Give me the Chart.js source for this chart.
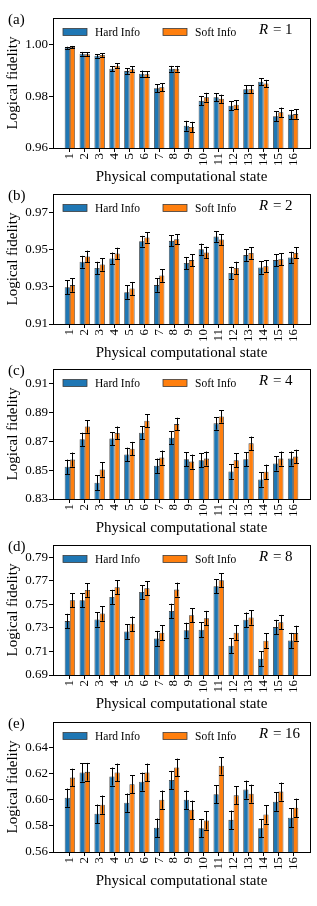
<!DOCTYPE html>
<html>
<head>
<meta charset="utf-8">
<script src="https://cdn.jsdelivr.net/npm/chart.js@4.4.0/dist/chart.umd.min.js"></script>
<style>
    html, body { margin: 0; padding: 0; background: #fff; }
    body { width: 317px; height: 906px; position: relative; overflow: hidden; }
    .panel { position: absolute; left: 0; width: 317px; height: 186px; }
</style>
</head>
<body>
<div class="panel" style="top:0px"><canvas id="chartR1"></canvas></div>
<div class="panel" style="top:176px"><canvas id="chartR2"></canvas></div>
<div class="panel" style="top:351px"><canvas id="chartR4"></canvas></div>
<div class="panel" style="top:527px"><canvas id="chartR8"></canvas></div>
<div class="panel" style="top:704px"><canvas id="chartR16"></canvas></div>

<script>
// Physical computational states (x axis)
const states = [1, 2, 3, 4, 5, 6, 7, 8, 9, 10, 11, 12, 13, 14, 15, 16];

// R = 1
const hardR1 = [0.9987, 0.9964, 0.9956, 0.9906, 0.9897, 0.9887, 0.9831, 0.9906, 0.9686, 0.9782, 0.9796, 0.9763, 0.9827, 0.9856, 0.9723, 0.9729];
const softR1 = [0.9990, 0.9962, 0.9959, 0.9918, 0.9904, 0.9885, 0.9835, 0.9906, 0.9681, 0.9796, 0.9790, 0.9767, 0.9827, 0.9849, 0.9738, 0.9731];
const hardErrR1 = [0.0004, 0.0007, 0.0007, 0.0010, 0.0011, 0.0012, 0.0015, 0.0011, 0.0019, 0.0017, 0.0016, 0.0017, 0.0015, 0.0014, 0.0019, 0.0018];
const softErrR1 = [0.0004, 0.0007, 0.0007, 0.0010, 0.0011, 0.0012, 0.0015, 0.0011, 0.0020, 0.0017, 0.0016, 0.0017, 0.0015, 0.0014, 0.0018, 0.0018];
const ticksR1 = [0.96, 0.98, 1.00];

// R = 2
const hardR2 = [0.9299, 0.9436, 0.9402, 0.9454, 0.9272, 0.9547, 0.9310, 0.9549, 0.9429, 0.9504, 0.9572, 0.9375, 0.9472, 0.9405, 0.9445, 0.9459];
const softR2 = [0.9310, 0.9465, 0.9421, 0.9481, 0.9292, 0.9567, 0.9362, 0.9558, 0.9445, 0.9486, 0.9556, 0.9403, 0.9483, 0.9412, 0.9450, 0.9484];
const hardErrR2 = [0.0037, 0.0032, 0.0034, 0.0032, 0.0036, 0.0029, 0.0036, 0.0029, 0.0033, 0.0030, 0.0028, 0.0034, 0.0031, 0.0034, 0.0032, 0.0031];
const softErrR2 = [0.0036, 0.0031, 0.0033, 0.0031, 0.0035, 0.0028, 0.0034, 0.0028, 0.0032, 0.0031, 0.0029, 0.0033, 0.0031, 0.0033, 0.0032, 0.0030];
const ticksR2 = [0.91, 0.93, 0.95, 0.97];

// R = 4
const hardR4 = [0.8524, 0.8715, 0.8413, 0.8720, 0.8609, 0.8761, 0.8531, 0.8726, 0.8577, 0.8570, 0.8826, 0.8491, 0.8577, 0.8436, 0.8547, 0.8581];
const softR4 = [0.8574, 0.8805, 0.8505, 0.8759, 0.8650, 0.8844, 0.8588, 0.8821, 0.8560, 0.8581, 0.8874, 0.8570, 0.8687, 0.8489, 0.8581, 0.8595];
const hardErrR4 = [0.0050, 0.0046, 0.0052, 0.0046, 0.0048, 0.0045, 0.0050, 0.0046, 0.0049, 0.0049, 0.0044, 0.0050, 0.0049, 0.0051, 0.0049, 0.0049];
const softErrR4 = [0.0049, 0.0044, 0.0050, 0.0045, 0.0047, 0.0044, 0.0049, 0.0044, 0.0049, 0.0049, 0.0043, 0.0049, 0.0047, 0.0050, 0.0049, 0.0048];
const ticksR4 = [0.83, 0.85, 0.87, 0.89, 0.91];

// R = 8
const hardR8 = [0.7358, 0.7536, 0.7372, 0.7564, 0.7270, 0.7606, 0.7211, 0.7445, 0.7281, 0.7284, 0.7654, 0.7149, 0.7369, 0.7038, 0.7307, 0.7194];
const softR8 = [0.7536, 0.7623, 0.7423, 0.7646, 0.7335, 0.7637, 0.7259, 0.7626, 0.7408, 0.7383, 0.7705, 0.7259, 0.7389, 0.7191, 0.7349, 0.7256];
const hardErrR8 = [0.0062, 0.0060, 0.0062, 0.0060, 0.0063, 0.0059, 0.0064, 0.0061, 0.0063, 0.0063, 0.0059, 0.0064, 0.0062, 0.0065, 0.0062, 0.0064];
const softErrR8 = [0.0060, 0.0059, 0.0061, 0.0059, 0.0062, 0.0059, 0.0063, 0.0059, 0.0061, 0.0062, 0.0058, 0.0063, 0.0061, 0.0063, 0.0062, 0.0063];
const ticksR8 = [0.69, 0.71, 0.73, 0.75, 0.77, 0.79];

// R = 16
const hardR16 = [0.6015, 0.6208, 0.5892, 0.6177, 0.5977, 0.6138, 0.5785, 0.6151, 0.6000, 0.5782, 0.6041, 0.5846, 0.6077, 0.5782, 0.5985, 0.5862];
const softR16 = [0.6169, 0.6213, 0.5962, 0.6208, 0.6118, 0.6208, 0.6000, 0.6246, 0.5923, 0.5841, 0.6259, 0.6033, 0.6046, 0.5887, 0.6062, 0.5938];
const hardErrR16 = [0.0070, 0.0069, 0.0071, 0.0069, 0.0070, 0.0069, 0.0071, 0.0069, 0.0070, 0.0071, 0.0070, 0.0071, 0.0069, 0.0071, 0.0070, 0.0071];
const softErrR16 = [0.0068, 0.0068, 0.0070, 0.0068, 0.0069, 0.0068, 0.0070, 0.0068, 0.0070, 0.0070, 0.0067, 0.0069, 0.0069, 0.0070, 0.0069, 0.0070];
const ticksR16 = [0.56, 0.58, 0.60, 0.62, 0.64];

const SERIF = "'Liberation Serif', 'DejaVu Serif', serif";
const BLUE = '#1f77b4';
const ORANGE = '#ff7f0e';
const EDGE = '#3c3c3c';

Chart.defaults.font.family = SERIF;
Chart.defaults.color = '#000';

// Error bars, frame, legend and panel labels
const panelDecor = {
    id: 'panelDecor',
    afterDatasetsDraw(chart) {
        const ctx = chart.ctx;
        const yScale = chart.scales.y;
        ctx.save();
        ctx.strokeStyle = '#000';
        ctx.lineWidth = 1;
        chart.data.datasets.forEach((ds, di) => {
            const meta = chart.getDatasetMeta(di);
            meta.data.forEach((bar, i) => {
                const v = ds.data[i].y;
                const e = ds.errors[i];
                const x = Math.round(bar.x) + 0.5;
                const yTop = yScale.getPixelForValue(v + e);
                const yBot = yScale.getPixelForValue(v - e);
                ctx.beginPath();
                ctx.moveTo(x, yTop);
                ctx.lineTo(x, yBot);
                ctx.moveTo(x - 2.5, Math.round(yTop) + 0.5);
                ctx.lineTo(x + 2.5, Math.round(yTop) + 0.5);
                ctx.moveTo(x - 2.5, Math.round(yBot) + 0.5);
                ctx.lineTo(x + 2.5, Math.round(yBot) + 0.5);
                ctx.stroke();
            });
        });
        ctx.restore();
    },
    afterDraw(chart, args, opts) {
        const ctx = chart.ctx;
        const area = chart.chartArea;
        ctx.save();

        // frame
        ctx.strokeStyle = '#000';
        ctx.lineWidth = 1;
        ctx.strokeRect(Math.round(area.left) + 0.5, Math.round(area.top) + 0.5,
            Math.round(area.right - area.left), Math.round(area.bottom - area.top));

        // legend
        const ly = area.top + 14;
        ctx.font = '11.5px ' + SERIF;
        ctx.textBaseline = 'middle';
        ctx.textAlign = 'left';
        chart.data.datasets.forEach((ds, di) => {
            const lx = area.left + 10 + di * 100;
            ctx.fillStyle = ds.backgroundColor;
            ctx.fillRect(lx, ly - 3.5, 24, 7);
            ctx.strokeStyle = EDGE;
            ctx.lineWidth = 0.8;
            ctx.strokeRect(lx, ly - 3.5, 24, 7);
            ctx.fillStyle = '#000';
            ctx.fillText(ds.label, lx + 32, ly + 0.5);
        });

        // R label
        const rx = area.right - 51;
        const ry = area.top + 12;
        ctx.font = 'italic 15px ' + SERIF;
        ctx.fillText('R', rx, ry);
        const rw = ctx.measureText('R').width;
        ctx.font = '15px ' + SERIF;
        ctx.fillText(' = ' + opts.r, rx + rw + 1, ry);

        // panel label
        ctx.fillText(opts.label, 8, area.top + 2);
        ctx.restore();
    }
};

function buildChart(canvasId, label, r, hard, soft, hardErr, softErr, yMin, yMax, yTicks) {
    const ctx = document.getElementById(canvasId);
    return new Chart(ctx, {
        type: 'bar',
        data: {
            datasets: [{
                label: 'Hard Info',
                data: states.map((s, i) => ({ x: s, y: hard[i] })),
                errors: hardErr,
                backgroundColor: BLUE,
                borderColor: EDGE,
                borderWidth: 0.8,
                borderSkipped: false
            }, {
                label: 'Soft Info',
                data: states.map((s, i) => ({ x: s, y: soft[i] })),
                errors: softErr,
                backgroundColor: ORANGE,
                borderColor: EDGE,
                borderWidth: 0.8,
                borderSkipped: false
            }]
        },
        options: {
            responsive: true,
            maintainAspectRatio: false,
            animation: false,
            categoryPercentage: 0.7,
            barPercentage: 1.0,
            layout: { padding: { top: 18, right: 7, left: 0, bottom: 0 } },
            plugins: {
                legend: { display: false },
                tooltip: { enabled: false },
                panelDecor: { label: label, r: r }
            },
            scales: {
                x: {
                    type: 'linear',
                    min: -0.135,
                    max: 17.135,
                    offset: false,
                    grid: { offset: false, drawOnChartArea: false, drawTicks: true, tickLength: 4, color: '#000' },
                    border: { display: true, color: '#000', width: 1 },
                    afterBuildTicks: (scale) => { scale.ticks = states.map(v => ({ value: v })); },
                    ticks: {
                        color: '#000',
                        font: { size: 13 },
                        minRotation: 90,
                        maxRotation: 90,
                        padding: 1,
                        autoSkip: false,
                        callback: (v) => String(v)
                    },
                    title: {
                        display: true,
                        text: 'Physical computational state',
                        color: '#000',
                        font: { size: 15 },
                        padding: { top: 0, bottom: 0 }
                    },
                    afterFit: (scale) => { scale.height = 38; }
                },
                y: {
                    min: yMin,
                    max: yMax,
                    grid: { drawOnChartArea: false, drawTicks: true, tickLength: 4, color: '#000' },
                    border: { display: true, color: '#000', width: 1 },
                    afterBuildTicks: (scale) => { scale.ticks = yTicks.map(v => ({ value: v })); },
                    ticks: {
                        color: '#000',
                        font: { size: 13 },
                        padding: 1,
                        callback: (v) => v.toFixed(2)
                    },
                    title: {
                        display: true,
                        text: 'Logical fidelity',
                        color: '#000',
                        font: { size: 15 },
                        padding: { top: 4.5, bottom: 0 }
                    },
                    afterFit: (scale) => { scale.width = 53; }
                }
            }
        },
        plugins: [panelDecor]
    });
}

buildChart('chartR1', '(a)', '1', hardR1, softR1, hardErrR1, softErrR1, 0.96, 1.0102, ticksR1);
buildChart('chartR2', '(b)', '2', hardR2, softR2, hardErrR2, softErrR2, 0.91, 0.9802, ticksR2);
buildChart('chartR4', '(c)', '4', hardR4, softR4, hardErrR4, softErrR4, 0.83, 0.9204, ticksR4);
buildChart('chartR8', '(d)', '8', hardR8, softR8, hardErrR8, softErrR8, 0.69, 0.8005, ticksR8);
buildChart('chartR16', '(e)', '16', hardR16, softR16, hardErrR16, softErrR16, 0.56, 0.6594, ticksR16);
</script>
</body>
</html>
